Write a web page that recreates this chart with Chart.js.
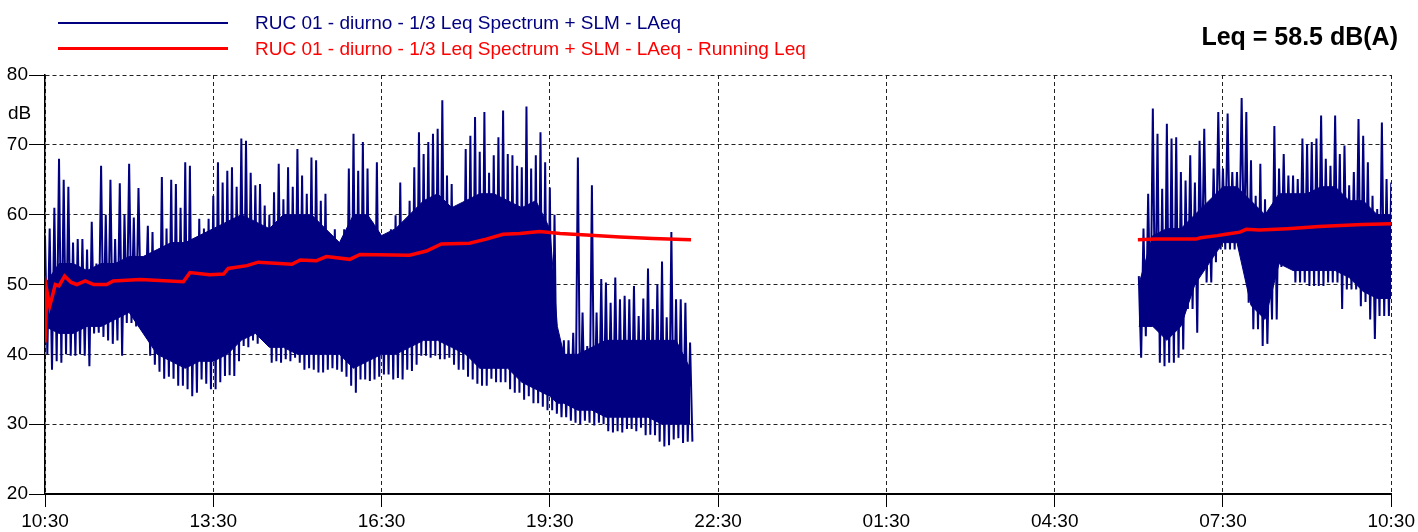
<!DOCTYPE html>
<html>
<head>
<meta charset="utf-8">
<script src="https://cdn.jsdelivr.net/npm/chart.js@4.4.1/dist/chart.umd.min.js"></script>
<style>
  body { margin: 0; background: #fff; }
  #wrap { position: relative; width: 1418px; height: 532px; font-family: "Liberation Sans", Arial, sans-serif; }
  #wrap canvas { position: absolute; left: 0; top: 0; }
  .txt { position: absolute; white-space: nowrap; line-height: 1; }
  .swatch { position: absolute; left: 58px; width: 170px; }
</style>
</head>
<body>
<div id="wrap">
  <canvas id="leqChart" width="1418" height="532"></canvas>
  <div class="swatch" style="top:22px;height:1.5px;background:#000080"></div>
  <div class="txt" style="left:255px;top:13px;font-size:19px;color:#000080">RUC 01 - diurno - 1/3 Leq Spectrum + SLM - LAeq</div>
  <div class="swatch" style="top:46.5px;height:3.5px;background:#ff0000"></div>
  <div class="txt" style="left:255px;top:39px;font-size:19px;color:#ff0000">RUC 01 - diurno - 1/3 Leq Spectrum + SLM - LAeq - Running Leq</div>
  <div class="txt" style="right:20px;top:24px;font-size:25px;font-weight:bold;color:#000">Leq = 58.5 dB(A)</div>
  <div class="txt" style="left:8px;top:103px;font-size:19px;color:#000">dB</div>
</div>
<script>
// x axis is minutes after 10:30
const tickLabels = ["10:30", "13:30", "16:30", "19:30", "22:30", "01:30", "04:30", "07:30", "10:30"];
const step = 5;

// LAeq peaks and dips, afternoon/evening block (every 5 min from 10:30)
const dayStart = 0;
const dayHigh = [
  57, 58, 61, 68, 65, 64, 56, 56.5, 56.5, 55,
  59, 53, 67, 60, 65, 56.5, 64.5, 60, 67.3, 59.6,
  63.8, 52, 58.4, 57.5, 53, 65.4, 58, 65, 64.4, 61,
  67.5, 67, 54, 59.4, 58, 59.4, 62.7, 67.5, 64.6, 66.3,
  66.8, 64, 70.9, 70.6, 66, 64.2, 64.4, 61.3, 60, 63.2,
  67.3, 62.2, 66.8, 64, 69.4, 65.6, 63, 68.2, 67.8, 62,
  63, 57.2, 57.9, 56, 57.9, 66.6, 71.6, 66.3, 70.4, 66.6,
  59, 67.5, 55, 56, 57.9, 59.9, 64.6, 58.9, 62, 66.8,
  71.8, 68.7, 70.4, 71.6, 72.3, 76.4, 65.6, 64.4, 60.8, 59.9,
  69.4, 71.3, 74, 69, 74.7, 66, 68.5, 71.1, 74.9, 68.7,
  68.5, 67, 66.8, 75.5, 66.6, 68.5, 71.8, 67.5, 63.9, 60,
  42, 42, 42, 43.1, 68.2, 46, 41.2, 64.2, 46, 50.8,
  50.3, 47.4, 51, 47.9, 48.4, 47.9, 49.8, 45.5, 48, 52.3,
  46.5, 50, 53.3, 45.3, 57.5, 47.9, 47.9, 47.4, 41.7
];
const dayLow = [
  40, 37.8, 39, 38.8, 40, 39.8, 39.8, 40, 39.8, 38.3,
  43, 43.1, 42.5, 42, 41.5, 42, 39.8, 44.5, 44.5, 44,
  46, 47, 39.8, 38.5, 37.5, 36.5, 36.8, 36.5, 35.5, 35.5,
  35, 34, 34.5, 36.4, 35.8, 35, 35, 36, 36.9, 37,
  36.9, 39, 41.2, 41, 42, 41.5, 42.5, 41.8, 38.8, 39,
  38.8, 39.3, 39, 39.5, 38.8, 37.8, 38, 37.8, 37.4, 37.4,
  37.8, 38, 37.8, 37.5, 36.8, 35.5, 34.5, 36.4, 36.4, 36.2,
  36.4, 36.8, 37.1, 37.1, 36.4, 36.6, 36.4, 37.8, 37.6, 38.5,
  39.8, 39.8, 39.5, 39.8, 39.3, 39.3, 39.5, 38.5, 37.8, 37.8,
  36.8, 36.4, 35.8, 35.5, 35.5, 36.5, 36, 36, 36, 35,
  34.5, 34.5, 33.5, 34, 33, 33, 32.5, 32, 32, 31.5,
  31, 31, 30.5, 30.2, 30, 30.5, 30.2, 29.8, 30.2, 30,
  29, 28.8, 29, 28.8, 29.3, 29.3, 29, 29.5, 28.4, 28.5,
  28.4, 27.5, 26.8, 27, 27.8, 28, 27.3, 27.5, 27.5
];

// LAeq peaks and dips, morning block (every 5 min from 06:00)
const morningStart = 1170;
const morningHigh = [
  51.2, 58, 63, 75.2, 71.6, 63.7, 73, 70.9, 71.1, 66.1,
  64.9, 68.5, 64.6, 70.6, 72.3, 61.8, 66.6, 74.7, 66.6, 74.5,
  66.1, 66.1, 76.7, 74.7, 67.8, 62.7, 67.3, 62.2, 56.5, 72.7,
  66.6, 68.7, 65.6, 65.6, 65.1, 70.9, 70.1, 70.4, 70.9, 74.2,
  68, 67, 74.2, 68.7, 69.9, 64.2, 66.1, 73.7, 71.3, 67.5,
  62.7, 60.8, 73.2, 65.1, 64.6
];
const morningLow = [
  39.5, 42.6, 44, 44, 38.8, 38.3, 38.8, 38.8, 39.5, 40.7,
  46.5, 46.5, 43.1, 52.2, 50.3, 50.3, 53.2, 55, 55, 55,
  55, 55, 54.5, 47.4, 43.6, 43.6, 41.2, 41.5, 45, 45,
  52.5, 52.5, 52.5, 50.3, 50.3, 50.3, 49.8, 49.8, 49.8, 49.8,
  50.3, 50.3, 50.3, 46.5, 49.3, 49.3, 49.3, 46.9, 47.5, 45,
  42.2, 45.5, 45.5, 45.5, 45.5
];

// dense part of the LAeq trace (where the samples overlap into a solid band)
const coreDayMinutes = [0, 15, 30, 45, 60, 75, 90, 105, 120, 135, 150, 165, 180, 195, 210, 225, 240, 255, 270, 285,
  300, 315, 330, 345, 360, 375, 390, 405, 420, 435, 450, 465, 480, 495, 510, 525, 540, 548, 555, 570,
  585, 600, 615, 630, 645, 660, 675, 690];
const coreDayTop = [50, 53, 53, 52, 53, 53, 54, 54, 55, 56, 56, 57, 58, 59, 60, 59, 58, 60, 60, 60,
  58, 56, 60, 60, 57, 58, 60, 62, 63, 61, 62, 63, 63, 62, 61, 62, 58, 44, 40, 40,
  41, 42, 42, 42, 42, 42, 42, 38];
const coreDayBottom = [44, 43, 43, 44, 44, 45, 46, 43, 40, 39, 38, 39, 39, 40, 42, 43, 41, 41, 40, 40,
  40, 40, 38, 39, 40, 40, 41, 42, 42, 41, 40, 38, 38, 38, 36, 35, 34, 33, 33, 32,
  32, 31, 31, 31, 31, 30, 30, 30];
const coreMorningMinutes = [1170, 1185, 1200, 1215, 1230, 1245, 1260, 1275, 1290, 1305, 1320, 1335, 1350, 1365, 1380, 1395, 1410, 1425, 1440];
const coreMorningTop = [50, 57, 58, 58, 60, 62, 64, 64, 62, 60, 63, 63, 63, 64, 64, 62, 62, 60, 60];
const coreMorningBottom = [44, 44, 42, 44, 50, 53, 56, 56, 47, 45, 53, 52, 52, 52, 52, 51, 49, 48, 48];

// Running Leq
const leqDayMinutes = [0, 2, 5, 8, 11, 15, 21, 28, 34, 43, 52, 66, 73, 102, 148, 155, 176, 191, 196, 216,
  228, 264, 273, 290, 301, 326, 337, 390, 408, 424, 454, 472, 490, 508, 529, 551, 579, 615, 650, 691];
const leqDayValues = [41.7, 49.1, 46.9, 48.4, 50, 49.8, 51.2, 50.3, 50, 50.5, 50, 50, 50.5, 50.7, 50.4, 51.7, 51.4, 51.5, 52.3, 52.7,
  53.2, 52.9, 53.5, 53.4, 54, 53.6, 54.3, 54.2, 54.8, 55.8, 55.9, 56.5, 57.2, 57.3, 57.6, 57.3, 57.1, 56.8, 56.6, 56.4];
const leqMorningMinutes = [1169, 1188, 1231, 1236, 1254, 1263, 1278, 1285, 1299, 1329, 1363, 1409, 1440];
const leqMorningValues = [56.4, 56.5, 56.5, 56.7, 57, 57.2, 57.5, 57.9, 57.8, 58, 58.3, 58.6, 58.7];

const NAVY = "#000080";
const RED = "#ff0000";

// each 5 min slot: its peak, then its dip half a slot later
function swingPoints(start, highs, lows) {
  const pts = [];
  highs.forEach((h, i) => {
    const x = start + i * step;
    pts.push({ x: x, y: h });
    if (x + step / 2 <= 1440) pts.push({ x: x + step / 2, y: lows[i] });
  });
  return pts;
}
function pairPoints(xs, ys) {
  return xs.map((x, i) => ({ x: x, y: ys[i] }));
}

function laeq(data) {
  return {
    data: data,
    borderColor: NAVY,
    borderWidth: 2,
    fill: false,
    pointRadius: 0,
    tension: 0,
    order: 1
  };
}
function coreBand(data, fill) {
  return {
    data: data,
    borderColor: NAVY,
    backgroundColor: NAVY,
    borderWidth: 1,
    fill: fill,
    pointRadius: 0,
    tension: 0,
    order: 2
  };
}
function runningLeq(data) {
  return {
    data: data,
    borderColor: RED,
    borderWidth: 3.5,
    fill: false,
    pointRadius: 0,
    tension: 0,
    order: 0
  };
}

const ctx = document.getElementById("leqChart").getContext("2d");
new Chart(ctx, {
  type: "line",
  data: {
    datasets: [
      runningLeq(pairPoints(leqDayMinutes, leqDayValues)),
      runningLeq(pairPoints(leqMorningMinutes, leqMorningValues)),
      laeq(swingPoints(dayStart, dayHigh, dayLow)),
      laeq(swingPoints(morningStart, morningHigh, morningLow)),
      coreBand(pairPoints(coreDayMinutes, coreDayTop), "+1"),
      coreBand(pairPoints(coreDayMinutes, coreDayBottom), false),
      coreBand(pairPoints(coreMorningMinutes, coreMorningTop), "+1"),
      coreBand(pairPoints(coreMorningMinutes, coreMorningBottom), false)
    ]
  },
  options: {
    responsive: false,
    animation: false,
    events: [],
    layout: { padding: { top: 75, right: 26, left: 0, bottom: 0 } },
    plugins: {
      legend: { display: false },
      tooltip: { enabled: false }
    },
    scales: {
      x: {
        type: "linear",
        min: 0,
        max: 1440,
        afterFit: (s) => { s.height = 38; },
        ticks: {
          stepSize: 180,
          autoSkip: false,
          maxRotation: 0,
          padding: 3,
          color: "#000",
          font: { family: "'Liberation Sans', Arial, sans-serif", size: 19 },
          callback: (v) => tickLabels[Math.round(v / 180)]
        },
        grid: { color: "#222", lineWidth: 1, tickLength: 13, tickColor: "#000", tickBorderDash: [] },
        border: { display: true, color: "#000", width: 2, dash: [4, 3] }
      },
      y: {
        min: 20,
        max: 80,
        afterFit: (s) => { s.width = 45; },
        ticks: {
          stepSize: 10,
          padding: 1,
          color: "#000",
          font: { family: "'Liberation Sans', Arial, sans-serif", size: 19 }
        },
        grid: { color: "#222", lineWidth: 1, tickLength: 16, tickColor: "#000", tickBorderDash: [] },
        border: { display: true, color: "#000", width: 1.5, dash: [4, 3] }
      }
    }
  }
});
</script>
</body>
</html>
